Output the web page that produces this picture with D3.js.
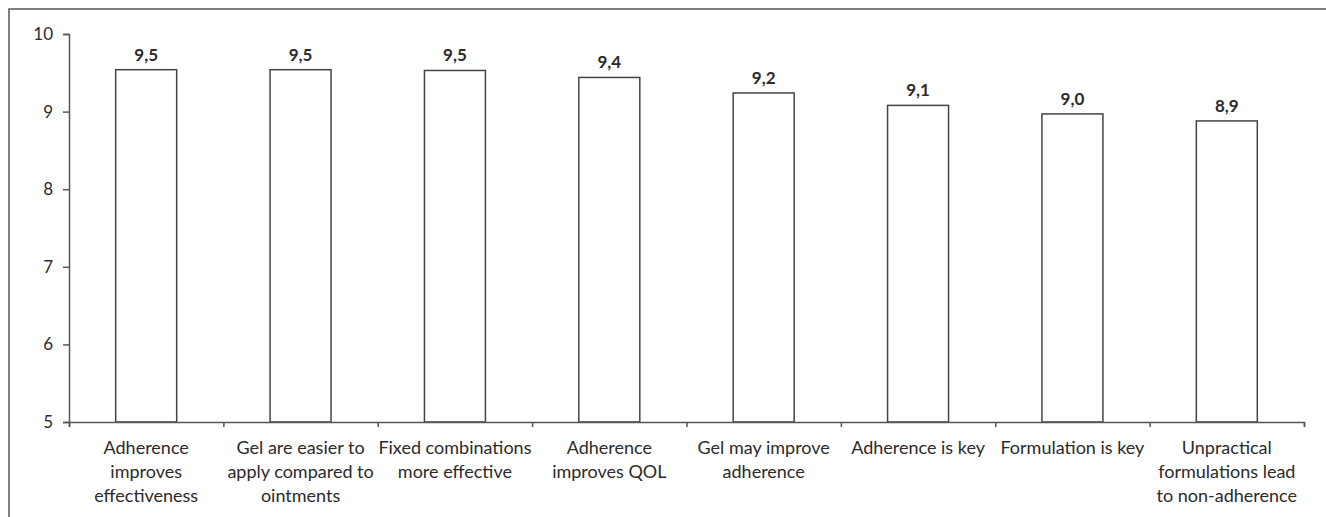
<!DOCTYPE html>
<html>
<head>
<meta charset="utf-8">
<script src="https://cdn.jsdelivr.net/npm/d3@7"></script>
<style>
  body { margin: 0; background: #fff; }
  svg text { font-family: Lato, "Open Sans", sans-serif; fill: #2b2b2b; }
</style>
</head>
<body>
<svg width="1326" height="517"></svg>
<script>
// categories, one entry per bar, split in lines as in the chart
var categories = [
  ["Adherence", "improves", "effectiveness"],
  ["Gel are easier to", "apply compared to", "ointments"],
  ["Fixed combinations", "more effective"],
  ["Adherence", "improves QOL"],
  ["Gel may improve", "adherence"],
  ["Adherence is key"],
  ["Formulation is key"],
  ["Unpractical", "formulations lead", "to non-adherence"]
];
var values = [9.54, 9.54, 9.53, 9.44, 9.24, 9.08, 8.97, 8.88];
var yTicks = [5, 6, 7, 8, 9, 10];

var svg = d3.select("svg");
var mLeft = 69, mRight = 1304, mTop = 34, mBottom = 422;

// outer frame
svg.append("rect")
  .attr("x", 9).attr("y", 9)
  .attr("width", 1340).attr("height", 600)
  .attr("fill", "none")
  .attr("stroke", "#555")
  .attr("stroke-width", 1.5);

var x = d3.scaleBand().domain(d3.range(categories.length)).range([mLeft, mRight]).padding(0);
var y = d3.scaleLinear().domain([5, 10]).range([mBottom, mTop]);
var barW = x.bandwidth() * 0.395;

// bars
svg.selectAll(".bar")
  .data(values)
  .enter()
  .append("rect")
  .attr("class", "bar")
  .attr("x", (d, i) => x(i) + x.bandwidth() / 2 - barW / 2)
  .attr("y", d => y(d))
  .attr("width", barW)
  .attr("height", d => mBottom - y(d))
  .attr("fill", "#fff")
  .attr("stroke", "#444")
  .attr("stroke-width", 1.5);

// value labels
var fmt = d3.format(".1f");
svg.selectAll(".val")
  .data(values)
  .enter()
  .append("text")
  .attr("class", "val")
  .attr("x", (d, i) => x(i) + x.bandwidth() / 2)
  .attr("y", d => y(d) - 9)
  .attr("text-anchor", "middle")
  .style("font-size", "17px")
  .style("font-weight", "bold")
  .text(d => fmt(d).replace(".", ","));

// y axis
var yAxis = svg.append("g")
  .attr("transform", "translate(" + mLeft + ",0)")
  .call(d3.axisLeft(y).tickValues(yTicks).tickSize(6).tickPadding(10).tickFormat(d3.format("d")));
yAxis.selectAll("text").style("font-size", "17px").attr("fill", null);

// x axis with ticks at category boundaries
var xb = d3.scaleLinear().domain([0, categories.length]).range([mLeft, mRight]);
svg.append("g")
  .attr("transform", "translate(0," + mBottom + ")")
  .call(d3.axisBottom(xb).tickValues(d3.range(categories.length + 1)).tickSize(5).tickFormat(""));

svg.selectAll(".domain, .tick line")
  .attr("stroke", "#555")
  .attr("stroke-width", 1.5);

// category labels
svg.selectAll(".cat")
  .data(categories)
  .enter()
  .append("text")
  .attr("class", "cat")
  .attr("text-anchor", "middle")
  .style("font-size", "18px")
  .each(function(lines, i) {
    d3.select(this).selectAll("tspan")
      .data(lines)
      .enter()
      .append("tspan")
      .attr("x", x(i) + x.bandwidth() / 2)
      .attr("y", (l, j) => 454 + j * 24)
      .text(l => l);
  });
</script>
</body>
</html>
